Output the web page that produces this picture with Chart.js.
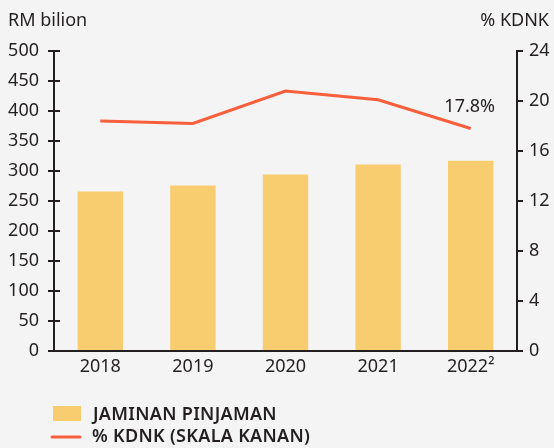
<!DOCTYPE html>
<html><head><meta charset="utf-8">
<script src="https://cdn.jsdelivr.net/npm/chart.js@4.4.0/dist/chart.umd.min.js"></script>
<style>html,body{margin:0;background:#f4f4f4}#wrap{width:554px;height:448px}</style>
</head><body><div id="wrap"><canvas id="c"></canvas></div>
<script>
const years = ["2018", "2019", "2020", "2021", "2022²"];
const loans = [266, 276, 294, 311, 317];
const gdpShare = [18.4, 18.2, 20.8, 20.1, 17.8];
const lastLabel = "17.8%";
const leftTitle = "RM bilion", rightTitle = "% KDNK";
const legendNames = ["JAMINAN PINJAMAN", "% KDNK (SKALA KANAN)"];

const ink = "#231f20", barCol = "#f8cd6f", lineCol = "#f95f3c";
const FONT = "'Noto Sans', sans-serif";

// extra bits: inner tick halves, titles, value label, legend
const extras = {
  id: "extras",
  afterDraw(chart) {
    const c = chart.ctx, a = chart.chartArea;
    const y = chart.scales.y, y1 = chart.scales.y1;
    c.save();
    c.strokeStyle = ink; c.lineWidth = 2;
    c.beginPath();
    y.ticks.forEach((t, i) => { const p = y.getPixelForTick(i); c.moveTo(a.left, p); c.lineTo(a.left + 6, p); });
    y1.ticks.forEach((t, i) => { const p = y1.getPixelForTick(i); c.moveTo(a.right, p); c.lineTo(a.right + 6, p); });
    c.moveTo(a.left - 6, a.bottom); c.lineTo(a.right + 5, a.bottom);
    c.stroke();

    c.fillStyle = ink;
    c.font = "18px " + FONT;
    c.textBaseline = "middle";
    c.textAlign = "left"; c.fillText(leftTitle, 8, 21);
    c.textAlign = "right"; c.fillText(rightTitle, 549, 21);

    const pt = chart.getDatasetMeta(1).data[gdpShare.length - 1];
    c.textAlign = "center";
    c.fillText(lastLabel, pt.x - 1, pt.y - 22);

    // legend
    c.font = "600 18px " + FONT;
    c.letterSpacing = "0.3px";
    c.textAlign = "left";
    c.fillStyle = barCol; c.fillRect(53, 406, 28, 15);
    c.fillStyle = ink; c.fillText(legendNames[0], 93, 415);
    c.strokeStyle = lineCol; c.lineWidth = 3; c.lineCap = "round";
    c.beginPath(); c.moveTo(52, 437); c.lineTo(80, 437); c.stroke();
    c.fillText(legendNames[1], 92, 437);
    c.restore();
  }
};

new Chart(document.getElementById("c"), {
  data: {
    labels: years,
    datasets: [
      { type: "bar", label: legendNames[0], data: loans, backgroundColor: barCol, yAxisID: "y",
        barPercentage: 0.49, categoryPercentage: 1, order: 2 },
      { type: "line", label: legendNames[1], data: gdpShare, borderColor: lineCol, borderWidth: 3,
        pointRadius: 0, tension: 0, yAxisID: "y1", order: 1 }
    ]
  },
  options: {
    responsive: true, maintainAspectRatio: false, animation: false,
    layout: { padding: { top: 51, bottom: 57, left: 0, right: 0 } },
    plugins: { legend: { display: false }, tooltip: { enabled: false } },
    scales: {
      x: {
        grid: { display: false, drawTicks: false },
        border: { display: false },
        ticks: { color: ink, font: { family: FONT, size: 18 }, padding: 5, maxRotation: 0 },
        afterFit: s => { s.height = 40; }
      },
      y: {
        position: "left", min: 0, max: 500,
        ticks: { stepSize: 50, color: ink, font: { family: FONT, size: 18 }, padding: 9 },
        grid: { drawOnChartArea: false, color: ink, lineWidth: 2, tickLength: 6 },
        border: { color: ink, width: 2 },
        afterFit: s => { s.width = 54; }
      },
      y1: {
        position: "right", min: 0, max: 24,
        ticks: { stepSize: 4, color: ink, font: { family: FONT, size: 18 }, padding: 6 },
        grid: { drawOnChartArea: false, color: ink, lineWidth: 2, tickLength: 6 },
        border: { color: ink, width: 2 },
        afterFit: s => { s.width = 37; }
      }
    }
  },
  plugins: [extras]
});
</script>
</body></html>
